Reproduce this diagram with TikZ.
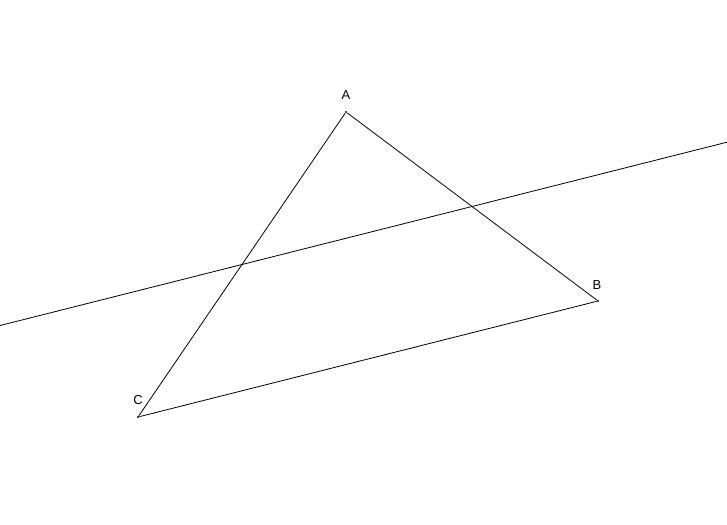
\documentclass[tikz,border=0pt]{standalone}
\usepackage{fontspec}
\setmainfont{Liberation Sans}
\usetikzlibrary {calc, positioning}

\begin{document}
\begin{tikzpicture}[
    x=1pt,
    y=-1pt,
    line width=0.8pt,
    vertex/.style={circle, fill, inner sep=0pt, minimum size=2.2pt},
    tag/.style={font=\fontsize{13}{13}\selectfont, inner sep=1pt},
]
    \useasboundingbox (0,0) rectangle (727,524);

    \node[vertex] (A) at (346,112) {};
    \node[vertex] (B) at (598,301) {};
    \node[vertex] (C) at (138,417) {};

    \node[tag] at (346,95)  (lA) {A};
    \node[tag] at (597,285) (lB) {B};
    \node[tag] at (138,400) (lC) {C};

    % midpoints of AB and AC, the line through them
    \coordinate (M) at ($(A)!0.5!(B)$);
    \coordinate (N) at ($(A)!0.5!(C)$);
    \coordinate (P) at ($(N)!-1.06!(M)$);
    \coordinate (Q) at ($(N)!2.12!(M)$);

    \draw (A) -- (B) -- (C) -- (A);
    \draw (P) -- (Q);
\end{tikzpicture}
\end{document}
